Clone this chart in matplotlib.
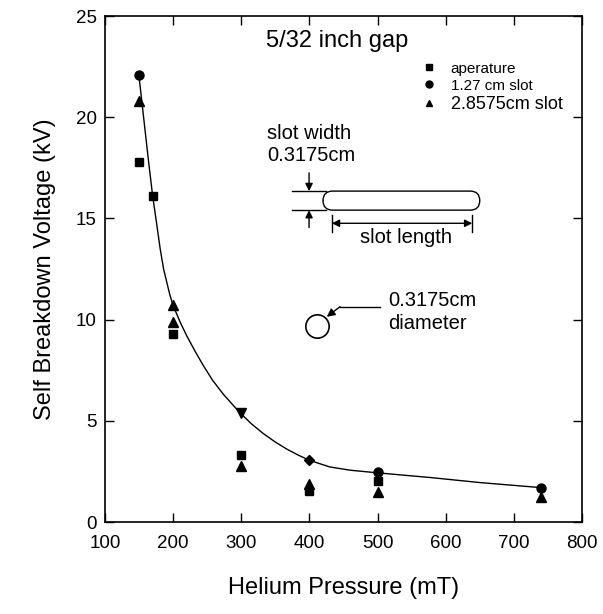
import numpy as np
import matplotlib.pyplot as plt
from matplotlib.patches import FancyBboxPatch
from matplotlib.lines import Line2D

plt.rcParams['font.family'] = ['Liberation Sans', 'DejaVu Sans']

# measured points
ap_p = [150, 170, 200, 300, 400, 500]
ap_v = [17.8, 16.1, 9.3, 3.3, 1.55, 2.05]
s127_p = [150, 500, 740]
s127_v = [22.1, 2.45, 1.7]
s285_p = [150, 200, 200, 300, 400, 500, 740]
s285_v = [20.8, 10.7, 9.9, 2.75, 1.9, 1.5, 1.25]
# extra markers sitting on the curve
dn_p, dn_v = [300], [5.4]
dm_p, dm_v = [400], [3.05]

# hand drawn trend curve
fit_p = [150, 157, 164, 170, 176, 181, 186, 195, 200, 210, 220, 232, 244, 258,
         274, 286, 298, 315, 332, 350, 367, 384, 400, 430, 460, 500, 577, 650, 740]
fit_v = [22.0, 19.9, 17.8, 16.1, 14.7, 13.5, 12.5, 11.25, 10.7, 9.9, 9.2, 8.45,
         7.75, 7.0, 6.3, 5.85, 5.4, 4.85, 4.38, 3.95, 3.6, 3.3, 3.05, 2.72, 2.56,
         2.43, 2.2, 1.95, 1.7]

fig = plt.figure(figsize=(6.03, 6.14), dpi=100)
ax = fig.add_axes([0.1741, 0.1498, 0.7910, 0.8241])

ax.plot(fit_p, fit_v, color='black', lw=1.0, zorder=2)
ax.plot(ap_p, ap_v, 's', color='black', ms=6, zorder=3)
ax.plot(s127_p, s127_v, 'o', color='black', ms=6.5, zorder=3)
ax.plot(s285_p, s285_v, '^', color='black', ms=6.5, zorder=3)
ax.plot(dn_p, dn_v, 'v', color='black', ms=6.5, zorder=3)
ax.plot(dm_p, dm_v, 'D', color='black', ms=5.5, zorder=3)

ax.set_xlim(100, 800)
ax.set_ylim(0, 25)
ax.set_xticks(np.arange(100, 801, 100))
ax.set_yticks(np.arange(0, 26, 5))
ax.tick_params(direction='in', length=6.5, width=1, labelsize=13.5,
               top=True, right=True)
ax.tick_params(axis='x', pad=9)
ax.tick_params(axis='y', pad=6)
for s in ax.spines.values():
    s.set_linewidth(1.2)

ax.set_xlabel('Helium Pressure (mT)', fontsize=17, labelpad=18)
ax.set_ylabel('Self Breakdown Voltage (kV)', fontsize=17, labelpad=14)

ax.text(337, 23.75, '5/32 inch gap', fontsize=17, va='center', ha='left')

handles = [Line2D([], [], ls='none', marker='s', color='black', ms=4.5),
           Line2D([], [], ls='none', marker='o', color='black', ms=5),
           Line2D([], [], ls='none', marker='^', color='black', ms=5)]
leg = ax.legend(handles, ['aperature', '1.27 cm slot', '2.8575cm slot'],
                loc='upper left', bbox_to_anchor=(0.648, 0.925), frameon=False,
                fontsize=11, handlelength=1.0, handletextpad=0.9,
                labelspacing=0.2, borderpad=0)
leg.get_texts()[2].set_fontsize(13)

# slot sketch
ax.text(338, 19.2, 'slot width', fontsize=14.5, va='center')
ax.text(338, 18.1, '0.3175cm', fontsize=14.5, va='center')
slot = FancyBboxPatch((420, 15.41), 230, 0.94,
                      boxstyle='round,pad=0,rounding_size=14',
                      mutation_aspect=0.0337, fc='white', ec='black', lw=1.0)
ax.add_patch(slot)
ax.plot([374, 424], [16.35, 16.35], color='black', lw=1.0)
ax.plot([374, 424], [15.41, 15.41], color='black', lw=1.0)
ax.annotate('', xy=(399.5, 16.35), xytext=(399.5, 17.25),
            arrowprops=dict(arrowstyle='-|>', color='black', lw=1.0,
                            mutation_scale=11, shrinkA=0, shrinkB=0))
ax.annotate('', xy=(399.5, 15.41), xytext=(399.5, 14.55),
            arrowprops=dict(arrowstyle='-|>', color='black', lw=1.0,
                            mutation_scale=11, shrinkA=0, shrinkB=0))
ax.annotate('', xy=(433, 14.76), xytext=(639, 14.76),
            arrowprops=dict(arrowstyle='<|-|>', color='black', lw=1.0,
                            mutation_scale=11, shrinkA=0, shrinkB=0))
ax.plot([433, 433], [14.33, 15.17], color='black', lw=1.0)
ax.plot([639, 639], [14.33, 15.17], color='black', lw=1.0)
ax.text(542, 14.05, 'slot length', fontsize=14.5, va='center', ha='center')

# hole sketch
ax.plot([410.7], [9.7], 'o', ms=16.8, mfc='white', mec='black', mew=1.2)
ax.plot([503, 445], [10.64, 10.64], color='black', lw=1.0)
ax.annotate('', xy=(425.5, 10.14), xytext=(445, 10.64),
            arrowprops=dict(arrowstyle='-|>', color='black', lw=1.0,
                            mutation_scale=12, shrinkA=0, shrinkB=0))
ax.text(516, 10.95, '0.3175cm', fontsize=14.5, va='center')
ax.text(516, 9.8, 'diameter', fontsize=14.5, va='center')

fig.savefig('out.png', dpi=100)
